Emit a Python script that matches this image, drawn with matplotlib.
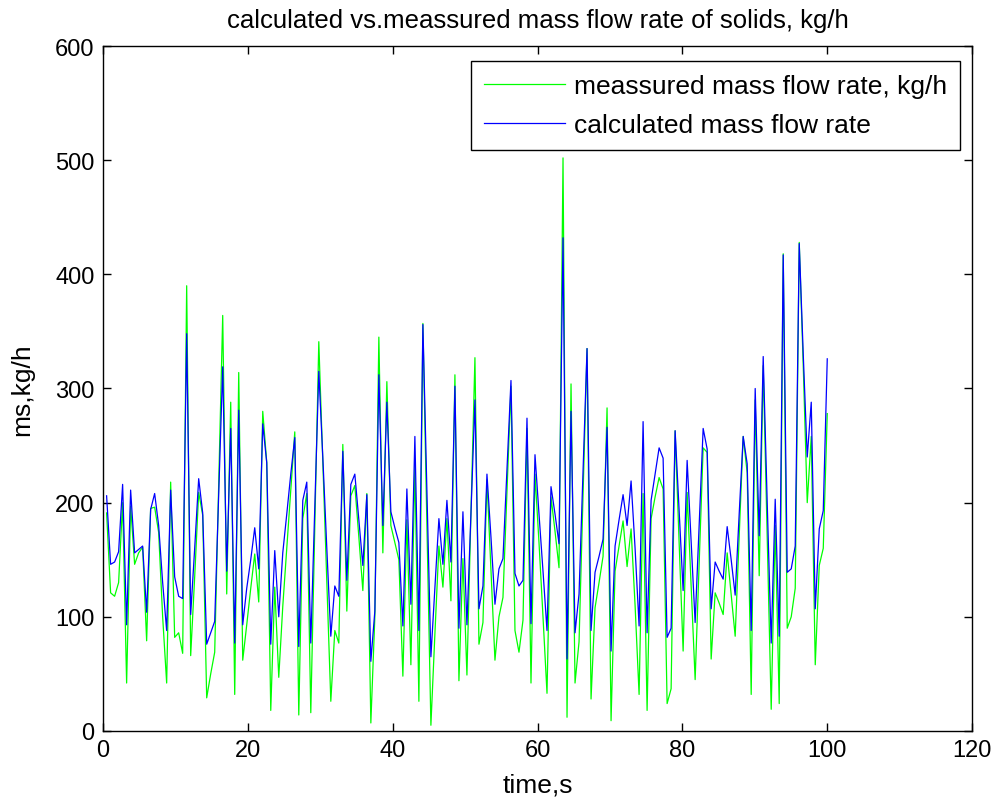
import numpy as np
import matplotlib
matplotlib.use('Agg')
import matplotlib.pyplot as plt

# values, 181 samples from 0.5 s to 100 s
measured = [191, 121, 118, 130, 200, 42, 197, 146, 156, 161,
            79, 195, 196, 174, 100, 42, 218, 82, 86, 68,
            390, 66, 135, 209, 189, 29, 50, 69, 216, 364,
            120, 288, 32, 314, 62, 93, 125, 155, 113, 280,
            235, 18, 126, 47, 109, 160, 212, 262, 14, 186,
            208, 16, 178, 341, 236, 130, 26, 88, 77, 251,
            105, 206, 215, 170, 123, 208, 7, 100, 345, 156,
            306, 180, 165, 150, 48, 185, 58, 233, 26, 357,
            180, 5, 85, 162, 126, 186, 114, 312, 44, 151,
            49, 190, 327, 76, 95, 220, 140, 62, 100, 117,
            210, 302, 88, 69, 97, 265, 42, 225, 165, 100,
            33, 205, 175, 143, 502, 12, 304, 42, 78, 207,
            335, 28, 108, 130, 153, 283, 9, 140, 162, 184,
            144, 177, 110, 32, 208, 18, 186, 205, 222, 212,
            24, 37, 263, 165, 70, 209, 127, 45, 147, 248,
            244, 63, 121, 112, 102, 156, 120, 83, 170, 258,
            226, 32, 290, 136, 320, 170, 19, 180, 24, 418,
            90, 100, 125, 428, 320, 200, 258, 58, 145, 160,
            278]
calculated = [206, 146, 148, 157, 216, 93, 211, 156, 159, 162,
              104, 194, 208, 180, 130, 88, 211, 135, 118, 116,
              348, 102, 160, 221, 191, 76, 86, 96, 207, 319,
              140, 265, 77, 281, 93, 125, 150, 178, 142, 269,
              235, 76, 158, 100, 156, 190, 225, 257, 74, 202,
              218, 77, 196, 315, 240, 160, 83, 127, 118, 245,
              132, 216, 225, 185, 145, 207, 61, 105, 312, 180,
              288, 192, 178, 165, 92, 212, 111, 258, 88, 356,
              210, 65, 125, 186, 146, 202, 148, 302, 90, 192,
              93, 190, 290, 107, 127, 225, 170, 111, 142, 151,
              230, 307, 138, 127, 132, 274, 94, 242, 190, 140,
              88, 214, 190, 164, 432, 63, 280, 86, 120, 228,
              335, 88, 139, 153, 168, 266, 70, 162, 185, 207,
              180, 219, 160, 92, 271, 86, 202, 225, 248, 239,
              82, 90, 263, 193, 123, 237, 165, 95, 180, 265,
              247, 107, 148, 140, 133, 179, 150, 119, 190, 258,
              234, 88, 300, 171, 328, 200, 77, 203, 83, 417,
              139, 142, 162, 427, 330, 240, 288, 107, 177, 193,
              326]
time = np.linspace(0.5, 100, len(measured))

plt.rcParams['font.family'] = ['Liberation Sans', 'DejaVu Sans']

fig = plt.figure(figsize=(9.95, 8.04), dpi=100)
ax = fig.add_axes([0.1035, 0.0896, 0.8735, 0.8519])

ax.plot(time, measured, color='#00ff00', lw=0.9, label='meassured mass flow rate, kg/h')
ax.plot(time, calculated, color='#0000ff', lw=0.9, label='calculated mass flow rate')

ax.set_xlim(0, 120)
ax.set_ylim(0, 600)
ax.set_xticks(np.arange(0, 121, 20))
ax.set_yticks(np.arange(0, 601, 100))
ax.tick_params(direction='in', length=6, width=1, labelsize=17, top=True, right=True, pad=6)
for s in ax.spines.values():
    s.set_linewidth(1)

ax.set_xlabel('time,s', fontsize=19, labelpad=8)
ax.set_ylabel('ms,kg/h', fontsize=19, labelpad=15)
ax.set_title('calculated vs.meassured mass flow rate of solids, kg/h',
             fontsize=18.5, pad=14)

leg = ax.legend(loc='upper right', bbox_to_anchor=(0.9865, 0.978), fontsize=19,
                fancybox=False, framealpha=1, edgecolor='black', handlelength=3.05,
                handletextpad=0.35, borderpad=0.5, labelspacing=0.55, borderaxespad=0)
leg.get_frame().set_linewidth(1)

fig.savefig('out.png', dpi=100)
